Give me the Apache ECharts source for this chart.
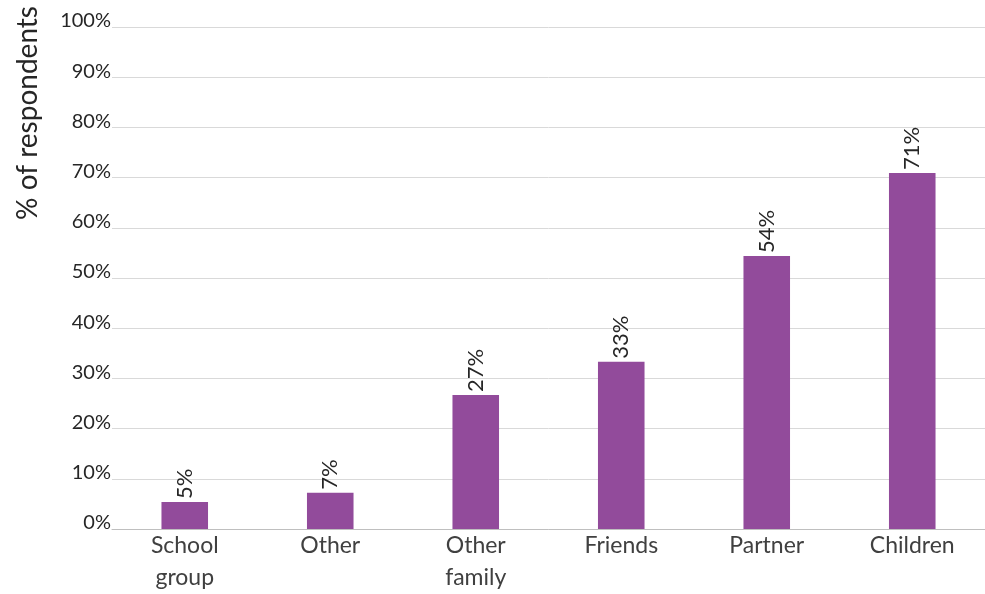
<!DOCTYPE html>
<html>
<head>
<meta charset="utf-8">
<script src="https://cdn.jsdelivr.net/npm/echarts@6/dist/echarts.min.js"></script>
<style>html,body{margin:0;padding:0;background:#fff}#c{width:985px;height:594px}</style>
</head>
<body>
<div id="c"></div>
<script>
const categories = ['School\ngroup', 'Other', 'Other\nfamily', 'Friends', 'Partner', 'Children'];
const values = [5.4, 7.2, 26.7, 33.3, 54.4, 70.9];
const yAxisTitle = '% of respondents';

const FONT = 'Lato, "Open Sans", sans-serif';
const chart = echarts.init(document.getElementById('c'), null, {renderer: 'canvas'});
chart.setOption({
  animation: false,
  grid: {left: 112, right: 0, top: 27, bottom: 65, containLabel: false, outerBoundsMode: 'none'},
  graphic: [{
    type: 'text',
    x: 28, y: 113,
    rotation: Math.PI / 2,
    style: {text: yAxisTitle, fill: '#262626', fontSize: 28, fontFamily: FONT, align: 'center', verticalAlign: 'middle'}
  }],
  xAxis: {
    type: 'category',
    data: categories,
    axisTick: {show: false},
    axisLine: {lineStyle: {color: '#bfbfbf', width: 1}},
    axisLabel: {color: '#404040', fontSize: 23, fontFamily: FONT, lineHeight: 32, margin: 1}
  },
  yAxis: {
    type: 'value',
    min: 0, max: 100, interval: 10,
    axisLine: {show: false},
    axisTick: {show: false},
    splitLine: {lineStyle: {color: '#d9d9d9', width: 1}},
    axisLabel: {color: '#262626', fontSize: 20, fontFamily: FONT, margin: 1, verticalAlign: 'bottom', padding: [0, 0, -4, 0], formatter: v => v + '%'}
  },
  series: [{
    type: 'bar',
    data: values,
    barWidth: '32%',
    itemStyle: {color: '#924b9b'},
    label: {
      show: true,
      position: 'top',
      rotate: 90,
      align: 'left',
      verticalAlign: 'middle',
      distance: 3,
      color: '#262626',
      fontSize: 22,
      fontFamily: FONT,
      formatter: p => Math.round(p.value) + '%'
    }
  }]
});
</script>
</body>
</html>
